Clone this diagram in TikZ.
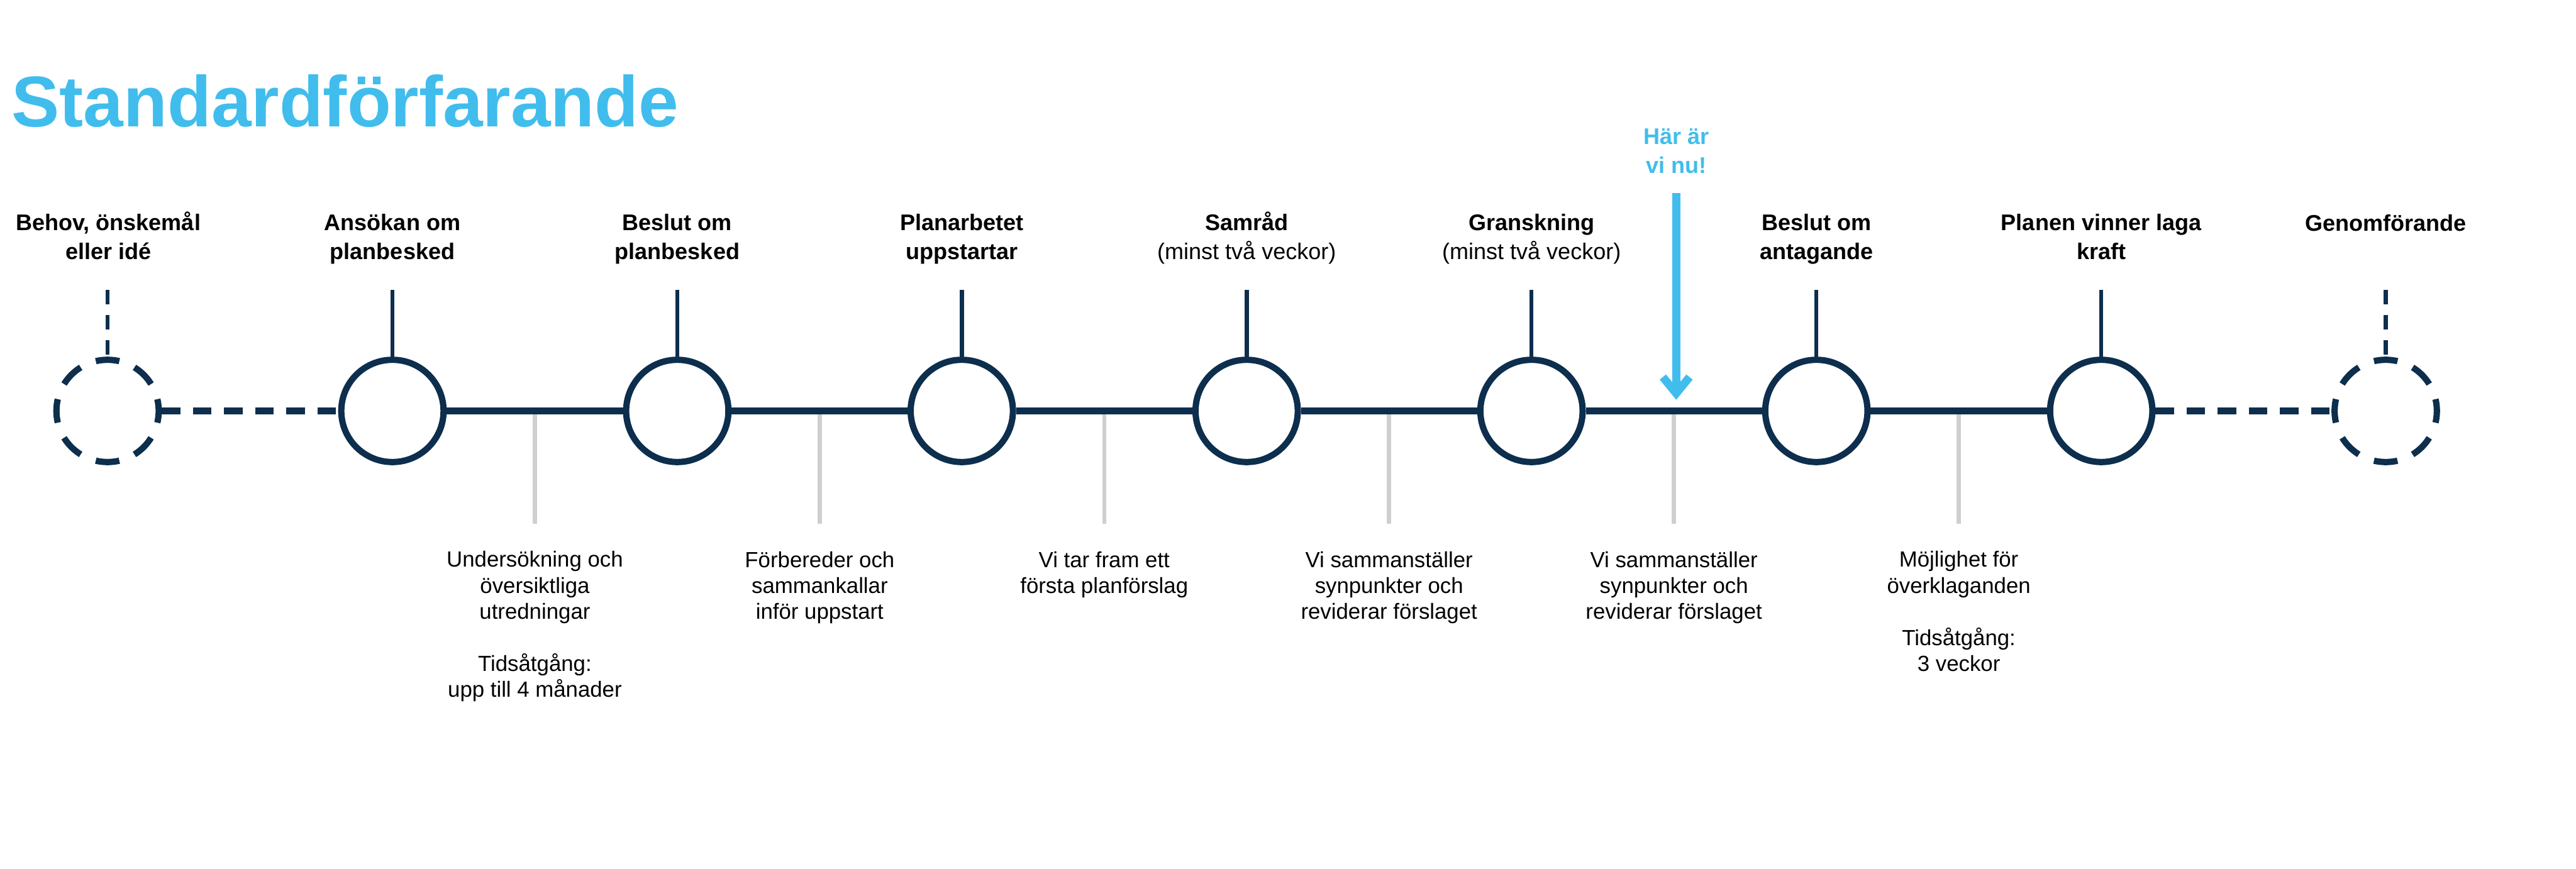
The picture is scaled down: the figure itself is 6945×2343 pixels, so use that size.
\documentclass[tikz,border=0pt]{standalone}
\usepackage{fontspec}
\setmainfont{Liberation Sans}
\usetikzlibrary{arrows.meta}
\definecolor{navy}{HTML}{0D2E4D}
\definecolor{skyblue}{HTML}{40BDED}
\definecolor{tickgray}{HTML}{CFCFCF}
\begin{document}
\begin{tikzpicture}[x=0.005cm, y=-0.005cm,
  stage/.style={circle, draw=navy, line width=0.085cm, minimum size=1.38cm, inner sep=0pt, fill=white},
  openstage/.style={stage, dash pattern=on 0.32cm off 0.2219cm, dash phase=0.16cm},
  timeline/.style={navy, line width=0.085cm},
  opentimeline/.style={timeline, dash pattern=on 0.25cm off 0.17cm},
  stick/.style={navy, line width=0.055cm},
  openstick/.style={stick, dash pattern=on 0.2cm off 0.14cm},
  graystick/.style={tickgray, line width=0.055cm},
  headline/.style={anchor=base west, inner sep=0pt, text=skyblue, font=\fontsize{27.6}{33}\selectfont\bfseries},
  toplbl/.style={anchor=base, inner sep=0pt, align=center, font=\fontsize{8.7}{11.1}\selectfont\bfseries},
  botlbl/.style={anchor=base, inner sep=0pt, align=center, font=\fontsize{8.4}{10}\selectfont},
  herelbl/.style={toplbl, text=skyblue},
  herearrow/.style={skyblue, line width=0.11cm, -{Straight Barb[length=0.22cm, width=0.36cm]}}]
\useasboundingbox (0,0) rectangle (6945,2343);

% Title
\node[headline] (title) at (30,341) {Standardförfarande};

% Stages
\node[openstage] (behov) at (290,1108) {};
\node[stage] (ansokan) at (1058,1108) {};
\node[stage] (beslut) at (1826,1108) {};
\node[stage] (planarb) at (2593,1108) {};
\node[stage] (samrad) at (3361,1108) {};
\node[stage] (gransk) at (4129,1108) {};
\node[stage] (antag) at (4897,1108) {};
\node[stage] (laga) at (5665,1108) {};
\node[openstage] (genomf) at (6432,1108) {};

% Timeline
\draw[opentimeline] (behov) -- (ansokan);
\draw[timeline] (ansokan) -- (beslut) -- (planarb) -- (samrad) -- (gransk) -- (antag) -- (laga);
\draw[opentimeline] (laga) -- (genomf);

% Stage labels (placed at the baseline of their last line)
\node[toplbl] (behov-lbl) at (292,700) {Behov, önskemål\\eller idé};
\node[toplbl] (ansokan-lbl) at (1058,700) {Ansökan om\\planbesked};
\node[toplbl] (beslut-lbl) at (1826,700) {Beslut om\\planbesked};
\node[toplbl] (planarb-lbl) at (2593,700) {Planarbetet\\uppstartar};
\node[toplbl] (samrad-lbl) at (3361,700) {Samråd\\\mdseries(minst två veckor)};
\node[toplbl] (gransk-lbl) at (4129,700) {Granskning\\\mdseries(minst två veckor)};
\node[toplbl] (antag-lbl) at (4897,700) {Beslut om\\antagande};
\node[toplbl] (laga-lbl) at (5665,700) {Planen vinner laga\\kraft};
\node[toplbl] (genomf-lbl) at (6432,623) {Genomförande};

% Sticks above the stages
\foreach \s/\x in {ansokan/1058, beslut/1826, planarb/2593, samrad/3361, gransk/4129, antag/4897, laga/5665}
  \coordinate (\s-top) at (\x,781);
\coordinate (behov-top) at (290,781);
\coordinate (genomf-top) at (6432,781);
\draw[openstick] (behov-top) -- (behov);
\draw[openstick] (genomf-top) -- (genomf);
\foreach \s in {ansokan, beslut, planarb, samrad, gransk, antag, laga}
  \draw[stick] (\s-top) -- (\s);

% Steps between the stages
\foreach \i/\x in {1/1442, 2/2210, 3/2977, 4/3745, 5/4513, 6/5281} {
  \coordinate (gap\i-top) at (\x,1118);
  \coordinate (gap\i-bot) at (\x,1412);
  \draw[graystick] (gap\i-top) -- (gap\i-bot);
}
\node[botlbl] (gap1-lbl) at (1442,1880) {Undersökning och\\översiktliga\\utredningar\\[10pt]Tidsåtgång:\\upp till 4 månader};
\node[botlbl] (gap2-lbl) at (2210,1670) {Förbereder och\\sammankallar\\inför uppstart};
\node[botlbl] (gap3-lbl) at (2977,1600) {Vi tar fram ett\\första planförslag};
\node[botlbl] (gap4-lbl) at (3745,1670) {Vi sammanställer\\synpunkter och\\reviderar förslaget};
\node[botlbl] (gap5-lbl) at (4513,1670) {Vi sammanställer\\synpunkter och\\reviderar förslaget};
\node[botlbl] (gap6-lbl) at (5281,1810) {Möjlighet för\\överklaganden\\[10pt]Tidsåtgång:\\3 veckor};

% Where we are
\node[herelbl] (here) at (4520,467) {Här är\\vi nu!};
\coordinate (here-top) at (4519,521);
\coordinate (here-tip) at (4519,1078);
\draw[herearrow] (here-top) -- (here-tip);
\end{tikzpicture}
\end{document}
